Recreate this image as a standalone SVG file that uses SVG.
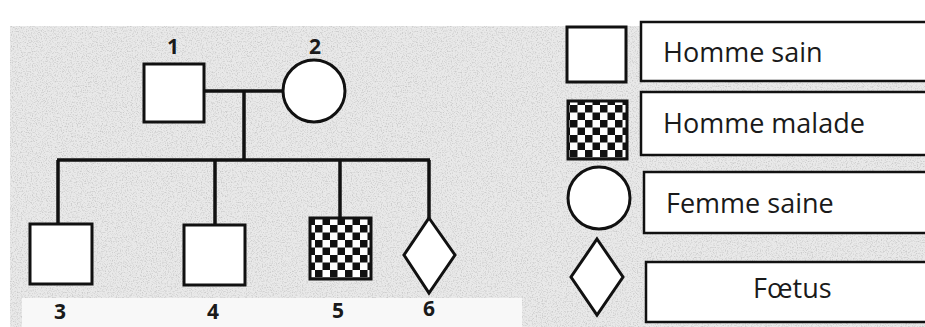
<svg xmlns="http://www.w3.org/2000/svg" width="925" height="327" viewBox="0 0 925 327">
  <defs>
    <pattern id="checker" x="0" y="0" width="15" height="15" patternUnits="userSpaceOnUse">
      <rect x="0" y="0" width="15" height="15" fill="#ffffff"/>
      <rect x="0" y="0" width="7.5" height="7.5" fill="#111111"/>
      <rect x="7.5" y="7.5" width="7.5" height="7.5" fill="#111111"/>
    </pattern>
    <filter id="speckle" x="0" y="0" width="100%" height="100%">
      <feTurbulence type="fractalNoise" baseFrequency="0.8" numOctaves="2" seed="3" result="n"/>
      <feColorMatrix in="n" type="matrix" values="0 0 0 0 0.6  0 0 0 0 0.6  0 0 0 0 0.6  0 0 0 -3 1.6" result="dots"/>
      <feComposite in="dots" in2="SourceGraphic" operator="in"/>
    </filter>
  </defs>
  <style>
    .sym { fill: #ffffff; stroke: #111111; stroke-width: 3; }
    .aff { fill: url(#checker); stroke: #111111; stroke-width: 3; }
    .line { fill: none; stroke: #111111; stroke-width: 3.5; }
    .box { fill: #ffffff; stroke: #111111; stroke-width: 2.5; }
    .num { font-family: "Open Sans", "Noto Sans", sans-serif; font-size: 21px; font-weight: 700; fill: #1a1a1a; text-anchor: middle; }
    .leg { font-family: "Open Sans", "Noto Sans", sans-serif; font-size: 27px; fill: #1a1a1a; }
  </style>

  <!-- background -->
  <rect x="0" y="0" width="925" height="327" fill="#ffffff"/>
  <rect x="10" y="26" width="915" height="301" fill="#e9e9e9"/>
  <rect x="10" y="26" width="915" height="301" fill="#e9e9e9" filter="url(#speckle)"/>
  <rect x="22" y="298" width="500" height="29" fill="#f8f8f8"/>

  <!-- connectors -->
  <g id="connectors">
    <line class="line" x1="204" y1="91" x2="283" y2="91"/>
    <line class="line" x1="244" y1="91" x2="244" y2="160"/>
    <line class="line" x1="57" y1="160" x2="430" y2="160"/>
    <line class="line" x1="58" y1="160" x2="58" y2="224"/>
    <line class="line" x1="215" y1="160" x2="215" y2="225"/>
    <line class="line" x1="340" y1="160" x2="340" y2="218"/>
    <line class="line" x1="429" y1="160" x2="429" y2="218"/>
  </g>

  <!-- pedigree -->
  <g id="n1">
    <rect class="sym" x="144" y="64" width="60" height="58"/>
    <text class="num" x="173" y="54">1</text>
  </g>
  <g id="n2">
    <circle class="sym" cx="314" cy="91" r="31"/>
    <text class="num" x="315" y="54">2</text>
  </g>
  <g id="n3">
    <rect class="sym" x="30" y="224" width="62" height="60"/>
    <text class="num" x="60" y="319">3</text>
  </g>
  <g id="n4">
    <rect class="sym" x="184" y="225" width="61" height="60"/>
    <text class="num" x="213" y="319">4</text>
  </g>
  <g id="n5">
    <rect class="aff" x="310" y="218" width="61" height="61"/>
    <text class="num" x="338" y="318">5</text>
  </g>
  <g id="n6">
    <polygon class="sym" points="429,218 455,255 429,293 404,255"/>
    <text class="num" x="429" y="316">6</text>
  </g>

  <!-- legend -->
  <g id="leg-homme-sain">
    <rect class="sym" x="567" y="27" width="59" height="55"/>
    <rect class="box" x="641" y="22" width="290" height="59"/>
    <text class="leg" x="663" y="62">Homme sain</text>
  </g>
  <g id="leg-homme-malade">
    <rect class="aff" x="568" y="101" width="59" height="58"/>
    <rect class="box" x="641" y="92" width="290" height="63"/>
    <text class="leg" x="663" y="133">Homme malade</text>
  </g>
  <g id="leg-femme-saine">
    <circle class="sym" cx="599" cy="198" r="31"/>
    <rect class="box" x="644" y="172" width="290" height="61"/>
    <text class="leg" x="666" y="213">Femme saine</text>
  </g>
  <g id="leg-foetus">
    <polygon class="sym" points="597,239 623,277 597,315 571,277"/>
    <rect class="box" x="646" y="262" width="290" height="60"/>
    <text class="leg" x="753" y="298">Fœtus</text>
  </g>
</svg>
